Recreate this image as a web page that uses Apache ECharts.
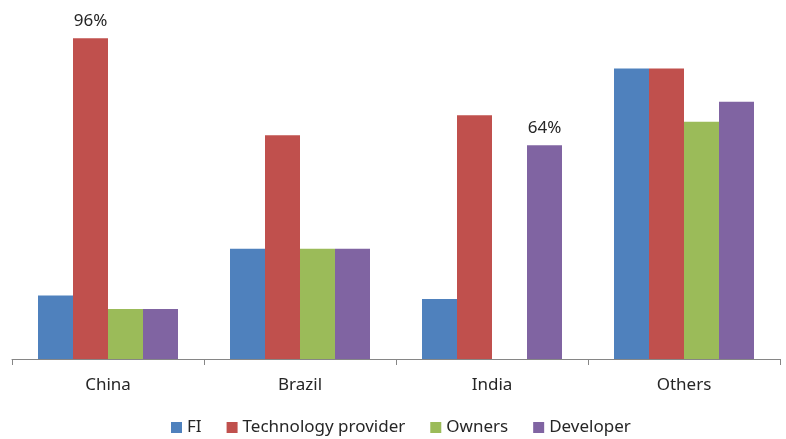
<!DOCTYPE html>
<html>
<head>
<meta charset="utf-8">
<script src="https://cdn.jsdelivr.net/npm/echarts@6/dist/echarts.min.js"></script>
<style>
html,body{margin:0;padding:0;background:#fff;}
#chart{width:786px;height:439px;}
</style>
</head>
<body>
<div id="chart"></div>
<script>
const categories = ['China', 'Brazil', 'India', 'Others'];
const seriesNames = ['FI', 'Technology provider', 'Owners', 'Developer'];
const fiValues = [19, 33, 18, 87];
const techValues = [96, 67, 73, 87];
const ownersValues = [15, 33, null, 71];
const developerValues = [15, 33, 64, 77];
// which points carry a visible data label: [seriesIndex, categoryIndex]
const labelledPoints = [[1, 0], [3, 2]];

const colors = ['#4F81BD', '#C0504D', '#9BBB59', '#8064A2'];
const allValues = [fiValues, techValues, ownersValues, developerValues];
const font = 'Noto Sans';

const chart = echarts.init(document.getElementById('chart'), null, {renderer: 'canvas'});
const series = allValues.map((vals, si) => ({
  name: seriesNames[si],
  type: 'bar',
  barWidth: 35,
  barGap: '0%',
  itemStyle: {color: colors[si]},
  data: vals.map((v, ci) => {
    const show = labelledPoints.some(p => p[0] === si && p[1] === ci);
    return {
      value: v,
      label: {
        show: show,
        position: 'top',
        distance: 9,
        formatter: p => p.value + '%',
        fontFamily: font,
        fontSize: 17,
        color: '#262626'
      }
    };
  })
}));

chart.setOption({
  animation: false,
  color: colors,
  grid: {left: 12, right: 6, top: 25, bottom: 80, containLabel: false},
  xAxis: {
    type: 'category',
    data: categories,
    axisLine: {lineStyle: {color: '#868686', width: 1}},
    axisTick: {show: true, length: 6, alignWithLabel: false, lineStyle: {color: '#868686'}},
    axisLabel: {fontFamily: font, fontSize: 17, color: '#262626', margin: 18},
    splitLine: {show: false}
  },
  yAxis: {
    type: 'value',
    min: 0,
    max: 100,
    show: false,
    splitLine: {show: false}
  },
  legend: {
    data: seriesNames,
    bottom: -2,
    left: 166,
    itemWidth: 11,
    itemHeight: 11,
    itemGap: 25,
    icon: 'rect',
    textStyle: {fontFamily: font, fontSize: 17, color: '#262626'}
  },
  series: series
});
</script>
</body>
</html>
